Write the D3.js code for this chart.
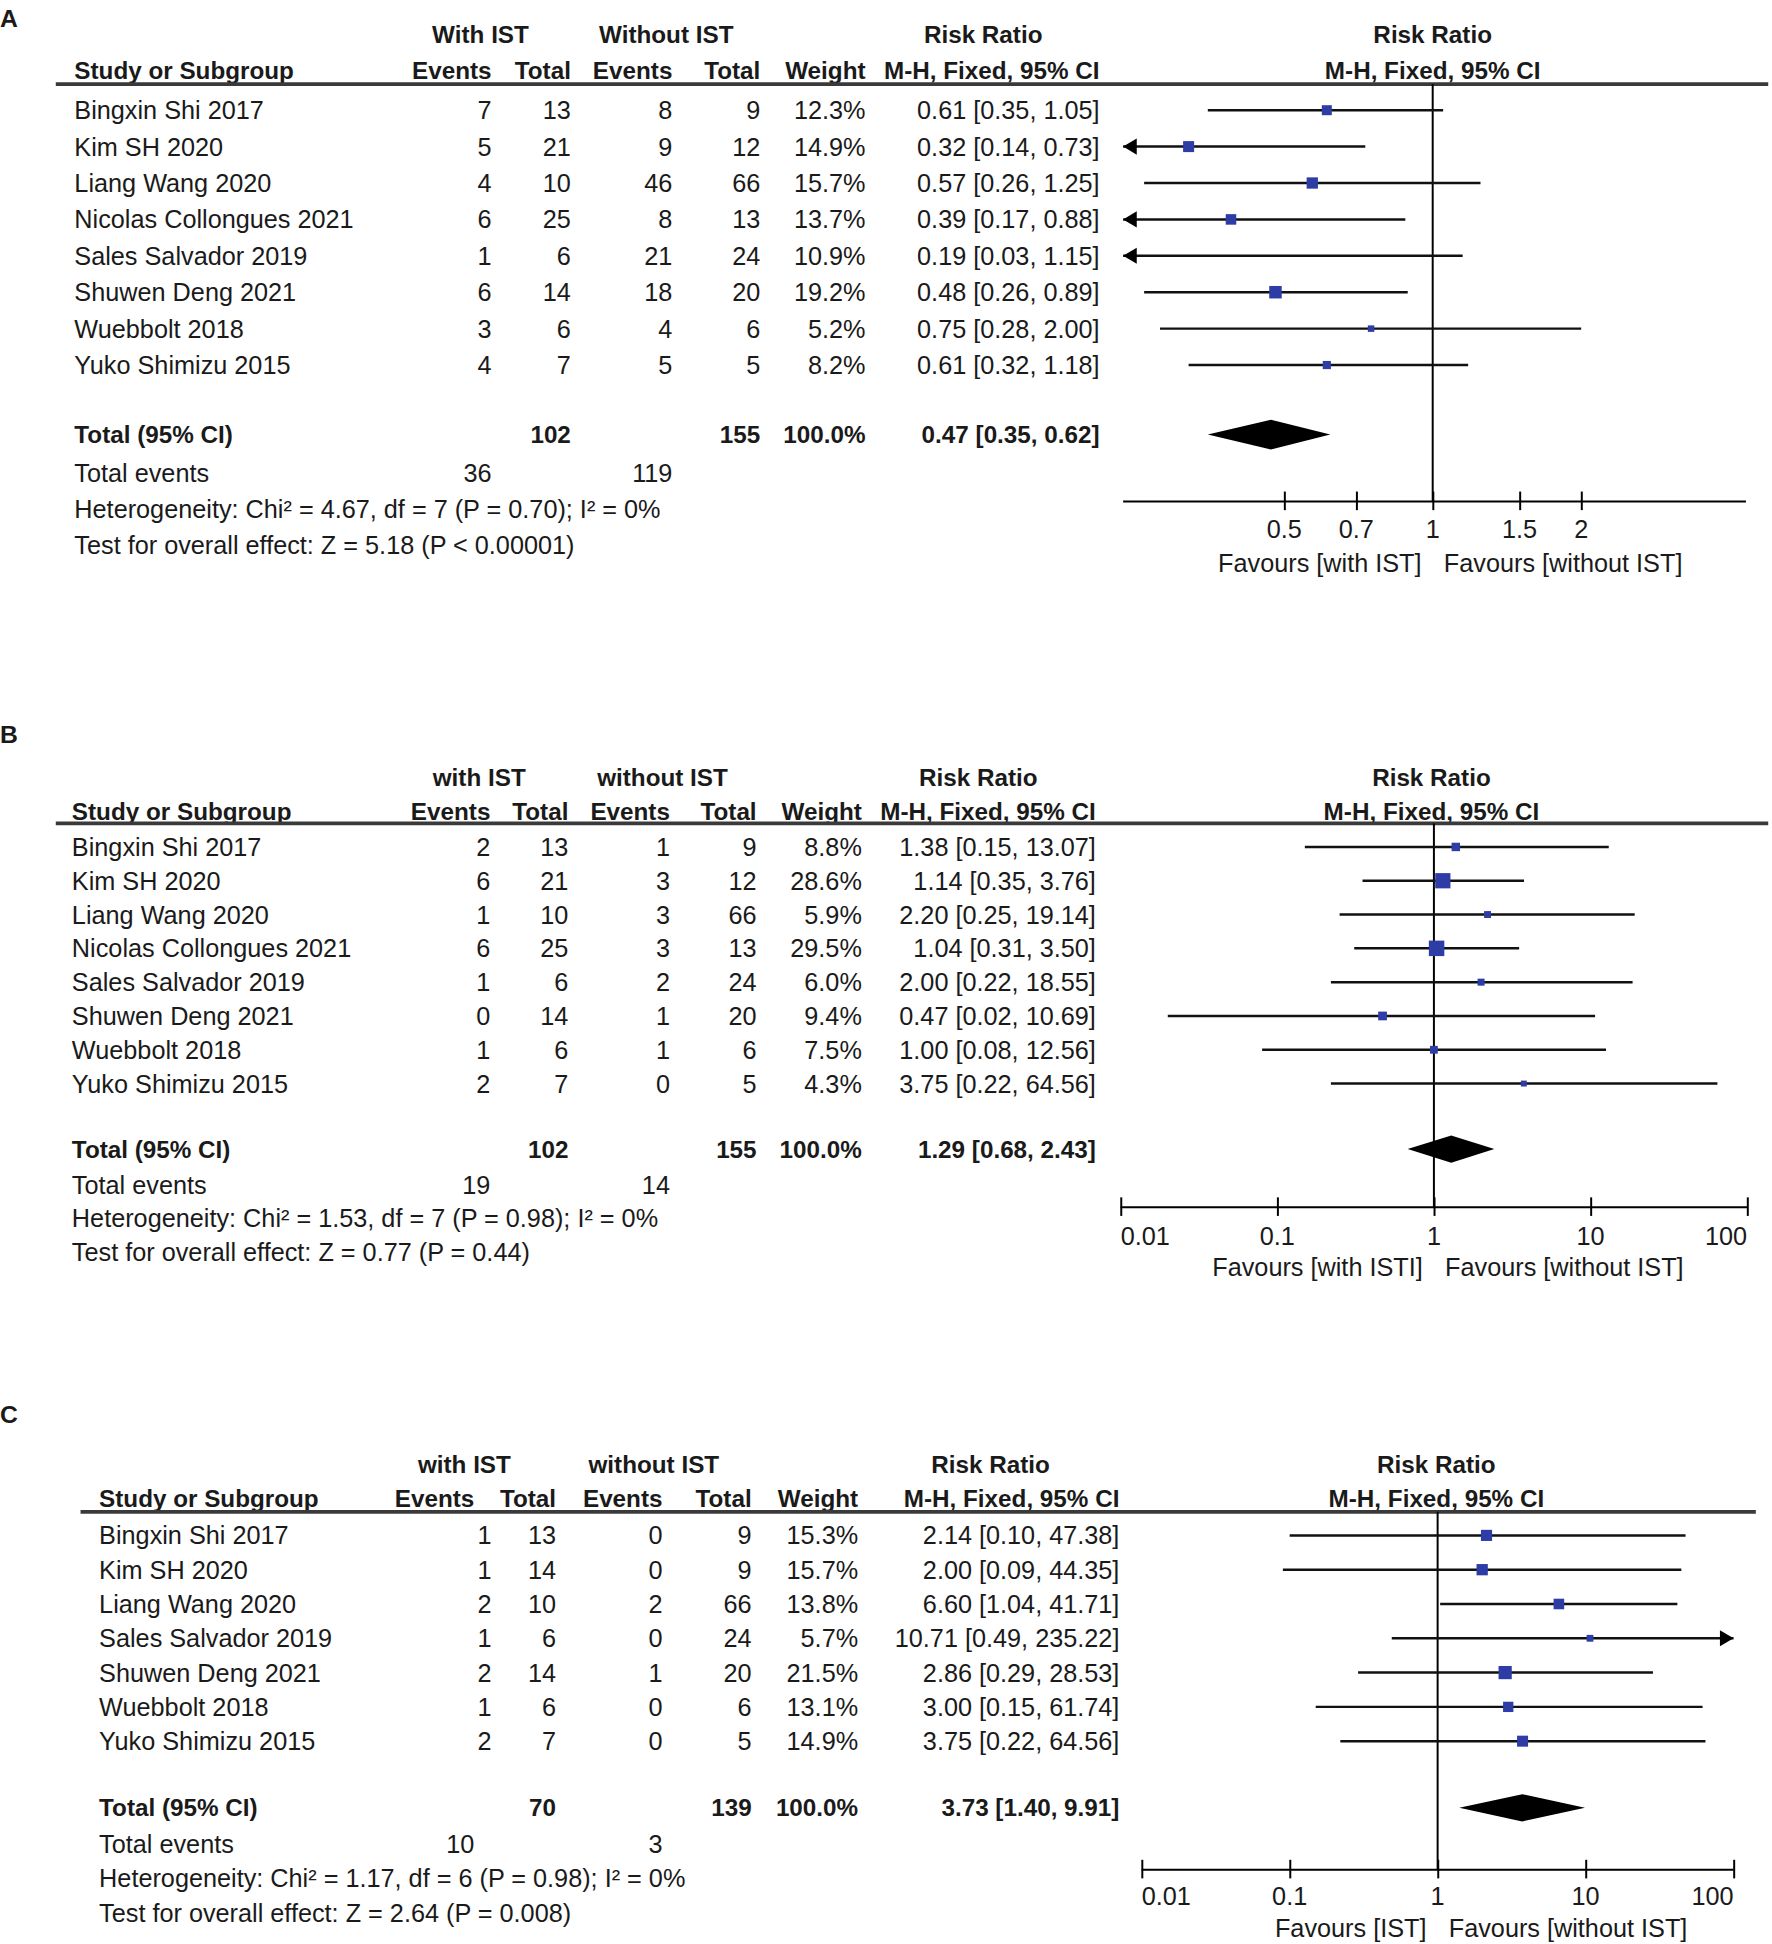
<!DOCTYPE html>
<html>
<head>
<meta charset="utf-8">
<script src="https://cdn.jsdelivr.net/npm/d3@7"></script>
<style>
  html, body { margin: 0; padding: 0; background: #ffffff; }
  svg { display: block; }
  text { font-family: "Liberation Sans", Arial, Helvetica, sans-serif; fill: #1a1a1a; }
</style>
</head>
<body>
<div id="chart"></div>
<script>
// ---------------- DATA ----------------
const studiesA = ["Bingxin Shi 2017","Kim SH 2020","Liang Wang 2020","Nicolas Collongues 2021","Sales Salvador 2019","Shuwen Deng 2021","Wuebbolt 2018","Yuko Shimizu 2015"];
const eventsA1 = [7,5,4,6,1,6,3,4];
const totalsA1 = [13,21,10,25,6,14,6,7];
const eventsA2 = [8,9,46,8,21,18,4,5];
const totalsA2 = [9,12,66,13,24,20,6,5];
const weightsA = [12.3,14.9,15.7,13.7,10.9,19.2,5.2,8.2];
const rrA = [0.61,0.32,0.57,0.39,0.19,0.48,0.75,0.61];
const loA = [0.35,0.14,0.26,0.17,0.03,0.26,0.28,0.32];
const hiA = [1.05,0.73,1.25,0.88,1.15,0.89,2.00,1.18];
const pooledA = {n1:102, n2:155, rr:0.47, lo:0.35, hi:0.62, e1:36, e2:119,
  het:"Heterogeneity: Chi\u00B2 = 4.67, df = 7 (P = 0.70); I\u00B2 = 0%",
  test:"Test for overall effect: Z = 5.18 (P < 0.00001)"};
const groupLabelsA = ["With IST","Without IST"];
const ticksA = [0.5,0.7,1,1.5,2];
const tickLabelsA = ["0.5","0.7","1","1.5","2"];
const favoursA = ["Favours [with IST]","Favours [without IST]"];

const studiesB = ["Bingxin Shi 2017","Kim SH 2020","Liang Wang 2020","Nicolas Collongues 2021","Sales Salvador 2019","Shuwen Deng 2021","Wuebbolt 2018","Yuko Shimizu 2015"];
const eventsB1 = [2,6,1,6,1,0,1,2];
const totalsB1 = [13,21,10,25,6,14,6,7];
const eventsB2 = [1,3,3,3,2,1,1,0];
const totalsB2 = [9,12,66,13,24,20,6,5];
const weightsB = [8.8,28.6,5.9,29.5,6.0,9.4,7.5,4.3];
const rrB = [1.38,1.14,2.20,1.04,2.00,0.47,1.00,3.75];
const loB = [0.15,0.35,0.25,0.31,0.22,0.02,0.08,0.22];
const hiB = [13.07,3.76,19.14,3.50,18.55,10.69,12.56,64.56];
const pooledB = {n1:102, n2:155, rr:1.29, lo:0.68, hi:2.43, e1:19, e2:14,
  het:"Heterogeneity: Chi\u00B2 = 1.53, df = 7 (P = 0.98); I\u00B2 = 0%",
  test:"Test for overall effect: Z = 0.77 (P = 0.44)"};
const groupLabelsB = ["with IST","without IST"];
const ticksB = [0.01,0.1,1,10,100];
const tickLabelsB = ["0.01","0.1","1","10","100"];
const favoursB = ["Favours [with ISTI]","Favours [without IST]"];

const studiesC = ["Bingxin Shi 2017","Kim SH 2020","Liang Wang 2020","Sales Salvador 2019","Shuwen Deng 2021","Wuebbolt 2018","Yuko Shimizu 2015"];
const eventsC1 = [1,1,2,1,2,1,2];
const totalsC1 = [13,14,10,6,14,6,7];
const eventsC2 = [0,0,2,0,1,0,0];
const totalsC2 = [9,9,66,24,20,6,5];
const weightsC = [15.3,15.7,13.8,5.7,21.5,13.1,14.9];
const rrC = [2.14,2.00,6.60,10.71,2.86,3.00,3.75];
const loC = [0.10,0.09,1.04,0.49,0.29,0.15,0.22];
const hiC = [47.38,44.35,41.71,235.22,28.53,61.74,64.56];
const pooledC = {n1:70, n2:139, rr:3.73, lo:1.40, hi:9.91, e1:10, e2:3,
  het:"Heterogeneity: Chi\u00B2 = 1.17, df = 6 (P = 0.98); I\u00B2 = 0%",
  test:"Test for overall effect: Z = 2.64 (P = 0.008)"};
const groupLabelsC = ["with IST","without IST"];
const ticksC = [0.01,0.1,1,10,100];
const tickLabelsC = ["0.01","0.1","1","10","100"];
const favoursC = ["Favours [IST]","Favours [without IST]"];

// ---------------- LAYOUT (coordinates in a 1431 x 1570 view) ----------------
const panels = [
  {letter:"A", studies:studiesA, e1:eventsA1, t1:totalsA1, e2:eventsA2, t2:totalsA2, w:weightsA, rr:rrA, lo:loA, hi:hiA,
   pooled:pooledA, groups:groupLabelsA, ticks:ticksA, tickLabels:tickLabelsA, favours:favoursA,
   L:{letterY:15, h1:28, h2:57, line:68, lineX:[45,1428], textX:60, cols:[397,461,543,614,699,888],
      hcols:[397,461,543,614,699,888],
      h1c:[388,538,794,1157], row0:89, dy:29.4, totalY:351, evY:382, hetY:411, testY:440, totEvX:[397,543],
      range:[907,1410], domain:[0.2357,4.316], axisY:405, tickLabY:427, favY:455, edgeAnchor:false, diamondH:12}},
  {letter:"B", studies:studiesB, e1:eventsB1, t1:totalsB1, e2:eventsB2, t2:totalsB2, w:weightsB, rr:rrB, lo:loB, hi:hiB,
   pooled:pooledB, groups:groupLabelsB, ticks:ticksB, tickLabels:tickLabelsB, favours:favoursB,
   L:{letterY:593, h1:628, h2:655, line:665, lineX:[45,1428], textX:58, cols:[396,459,541,611,696,885],
      hcols:[396,459,541,611,696,885],
      h1c:[387,535,790,1156], row0:684, dy:27.3, totalY:928, evY:957, hetY:984, testY:1011, totEvX:[396,541],
      range:[905,1411], domain:[0.01,100], axisY:975, tickLabY:998, favY:1023, edgeAnchor:true, diamondH:11}},
  {letter:"C", studies:studiesC, e1:eventsC1, t1:totalsC1, e2:eventsC2, t2:totalsC2, w:weightsC, rr:rrC, lo:loC, hi:hiC,
   pooled:pooledC, groups:groupLabelsC, ticks:ticksC, tickLabels:tickLabelsC, favours:favoursC,
   L:{letterY:1142, h1:1183, h2:1210, line:1221, lineX:[65,1418], textX:80, cols:[397,449,535,607,693,904],
      hcols:[383,449,535,607,693,904],
      h1c:[375,528,800,1160], row0:1240, dy:27.7, totalY:1460, evY:1489, hetY:1517, testY:1545, totEvX:[383,535],
      range:[922,1400], domain:[0.01,100], axisY:1510, tickLabY:1531, favY:1557, edgeAnchor:true, diamondH:11}}
];

const FS = 20.4;      // regular text
const FSB = 19.6;     // bold text
const markerColor = "#2e3ca6";

const svg = d3.select("#chart").append("svg")
  .attr("width", 1772).attr("height", 1944)
  .attr("viewBox", "0 0 1431 1570");

function txt(g, x, y, s, opts = {}) {
  return g.append("text")
    .attr("x", x).attr("y", y)
    .attr("dominant-baseline", "central")
    .attr("text-anchor", opts.anchor || "start")
    .attr("font-size", opts.size || (opts.bold ? FSB : FS))
    .attr("font-weight", opts.bold ? "bold" : "normal")
    .text(s);
}
const f2 = d3.format(".2f");
const f1 = d3.format(".1f");

panels.forEach(p => {
  const L = p.L;
  const g = svg.append("g");
  txt(g, 0, L.letterY, p.letter, {bold:true, size:20});

  // headers
  txt(g, L.h1c[0], L.h1, p.groups[0], {bold:true, anchor:"middle"});
  txt(g, L.h1c[1], L.h1, p.groups[1], {bold:true, anchor:"middle"});
  txt(g, L.h1c[2], L.h1, "Risk Ratio", {bold:true, anchor:"middle"});
  txt(g, L.h1c[3], L.h1, "Risk Ratio", {bold:true, anchor:"middle"});
  txt(g, L.textX, L.h2, "Study or Subgroup", {bold:true});
  ["Events","Total","Events","Total","Weight","M-H, Fixed, 95% CI"].forEach((h, i) =>
    txt(g, L.hcols[i], L.h2, h, {bold:true, anchor:"end"}));
  txt(g, L.h1c[3], L.h2, "M-H, Fixed, 95% CI", {bold:true, anchor:"middle"});
  g.append("line").attr("x1", L.lineX[0]).attr("x2", L.lineX[1])
    .attr("y1", L.line).attr("y2", L.line)
    .attr("stroke", "#3a3a3a").attr("stroke-width", 3);

  // scales
  const x = d3.scaleLog().domain(L.domain).range(L.range);
  const y = d3.scaleLinear().domain([0, 1]).range([L.row0, L.row0 + L.dy]);

  // study rows
  p.studies.forEach((s, i) => {
    const yy = y(i);
    txt(g, L.textX, yy, s);
    const vals = [p.e1[i], p.t1[i], p.e2[i], p.t2[i], f1(p.w[i]) + "%",
      `${f2(p.rr[i])} [${f2(p.lo[i])}, ${f2(p.hi[i])}]`];
    vals.forEach((v, k) => txt(g, L.cols[k], yy, v, {anchor:"end"}));
  });

  // forest: vertical null line
  g.append("line").attr("x1", x(1)).attr("x2", x(1))
    .attr("y1", L.line).attr("y2", L.axisY)
    .attr("stroke", "#000").attr("stroke-width", 1.6);

  // CI lines, arrows, markers
  const [dMin, dMax] = L.domain;
  p.studies.forEach((s, i) => {
    const yy = y(i);
    const lo = Math.max(p.lo[i], dMin), hi = Math.min(p.hi[i], dMax);
    const xl = x(lo), xh = x(hi);
    g.append("line").attr("x1", xl).attr("x2", xh).attr("y1", yy).attr("y2", yy)
      .attr("stroke", "#111").attr("stroke-width", 2);
    if (p.lo[i] < dMin) {
      g.append("path").attr("d", `M${xl},${yy} L${xl + 11},${yy - 6.5} L${xl + 11},${yy + 6.5} Z`).attr("fill", "#000");
    }
    if (p.hi[i] > dMax) {
      g.append("path").attr("d", `M${xh},${yy} L${xh - 11},${yy - 6.5} L${xh - 11},${yy + 6.5} Z`).attr("fill", "#000");
    }
    if (p.rr[i] >= dMin && p.rr[i] <= dMax) {
      const side = 2.3 * Math.sqrt(p.w[i]);
      g.append("rect").attr("x", x(p.rr[i]) - side / 2).attr("y", yy - side / 2)
        .attr("width", side).attr("height", side).attr("fill", markerColor);
    }
  });

  // total row
  const P = p.pooled;
  txt(g, L.textX, L.totalY, "Total (95% CI)", {bold:true});
  txt(g, L.cols[1], L.totalY, P.n1, {bold:true, anchor:"end"});
  txt(g, L.cols[3], L.totalY, P.n2, {bold:true, anchor:"end"});
  txt(g, L.cols[4], L.totalY, "100.0%", {bold:true, anchor:"end"});
  txt(g, L.cols[5], L.totalY, `${f2(P.rr)} [${f2(P.lo)}, ${f2(P.hi)}]`, {bold:true, anchor:"end"});
  const dh = L.diamondH;
  g.append("path")
    .attr("d", `M${x(P.lo)},${L.totalY} L${x(P.rr)},${L.totalY - dh} L${x(P.hi)},${L.totalY} L${x(P.rr)},${L.totalY + dh} Z`)
    .attr("fill", "#000");
  txt(g, L.textX, L.evY, "Total events");
  txt(g, L.totEvX[0], L.evY, P.e1, {anchor:"end"});
  txt(g, L.totEvX[1], L.evY, P.e2, {anchor:"end"});
  txt(g, L.textX, L.hetY, P.het);
  txt(g, L.textX, L.testY, P.test);

  // axis
  const axis = d3.axisBottom(x).tickValues(p.ticks).tickSize(0).tickFormat("");
  const ag = g.append("g").attr("transform", `translate(0,${L.axisY})`).call(axis);
  ag.select(".domain").attr("stroke", "#000").attr("stroke-width", 1.6)
    .attr("d", `M${L.range[0]},0H${L.range[1]}`);
  ag.selectAll(".tick").append("line").attr("y1", -8).attr("y2", 7)
    .attr("stroke", "#000").attr("stroke-width", 1.6);
  p.ticks.forEach((t, k) => {
    let anchor = "middle";
    if (L.edgeAnchor && k === 0) anchor = "start";
    if (L.edgeAnchor && k === p.ticks.length - 1) anchor = "end";
    txt(g, x(t), L.tickLabY, p.tickLabels[k], {anchor});
  });
  txt(g, x(1) - 9, L.favY, p.favours[0], {anchor:"end"});
  txt(g, x(1) + 9, L.favY, p.favours[1], {anchor:"start"});
});
</script>
</body>
</html>
